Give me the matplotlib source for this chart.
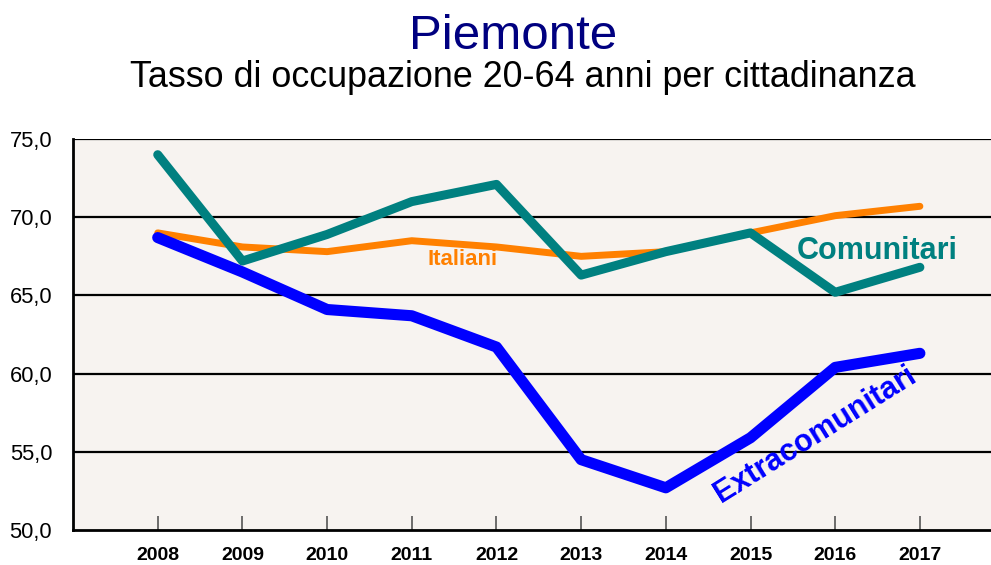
import matplotlib
matplotlib.use("Agg")
import matplotlib.pyplot as plt

plt.rcParams['font.family'] = ['Liberation Sans', 'DejaVu Sans']

years = [2008, 2009, 2010, 2011, 2012, 2013, 2014, 2015, 2016, 2017]
italiani = [69.0, 68.1, 67.8, 68.5, 68.1, 67.5, 67.8, 69.0, 70.1, 70.7]
comunitari = [74.0, 67.2, 68.9, 71.0, 72.1, 66.3, 67.8, 69.0, 65.2, 66.8]
extracomunitari = [68.7, 66.5, 64.1, 63.7, 61.7, 54.5, 52.7, 55.9, 60.4, 61.3]
yticks = [50, 55, 60, 65, 70, 75]
ytick_labels = ["50,0", "55,0", "60,0", "65,0", "70,0", "75,0"]

fig = plt.figure(figsize=(9.91, 5.65), dpi=100)
ax = fig.add_axes([0.0737, 0.0619, 0.94, 0.692])
ax.set_facecolor('#F7F3F0')

ax.set_xlim(2007.0, 2018.0)
ax.set_ylim(50, 75)

for y in yticks[1:]:
    ax.axhline(y, color='black', lw=1.6, zorder=1)

ax.plot(years, italiani, color='#FF8000', lw=5.0, solid_capstyle='round', solid_joinstyle='round', zorder=3)
ax.plot(years, comunitari, color='#008080', lw=6.5, solid_capstyle='round', solid_joinstyle='round', zorder=4)
ax.plot(years, extracomunitari, color='#0000FF', lw=8.0, solid_capstyle='round', solid_joinstyle='round', zorder=5)

ax.set_yticks(yticks)
ax.set_yticklabels(ytick_labels, fontsize=15.75)
ax.set_xticks(years)
ax.set_xticklabels([str(y) for y in years], fontsize=14, fontweight='bold')
ax.tick_params(axis='y', length=0, pad=15)
ax.tick_params(axis='x', direction='in', length=10, width=1.2, color='#555555', pad=12)

for s in ['top', 'right']:
    ax.spines[s].set_visible(False)
ax.spines['left'].set_linewidth(2)
ax.spines['bottom'].set_linewidth(2)

ax.text(2011.6, 67.3, "Italiani", color='#FF8000', fontsize=16, fontweight='bold', ha='center', va='center', zorder=6)
ax.text(2016.5, 67.85, "Comunitari", color='#008080', fontsize=22, fontweight='bold', ha='center', va='center', zorder=6)
ax.text(2015.77, 56.1, "Extracomunitari", color='#0000FF', fontsize=22, fontweight='bold', ha='center', va='center', rotation=32, zorder=6)

fig.text(0.518, 0.935, "Piemonte", color='#000080', fontsize=35.5, ha='center', va='center')
fig.text(0.528, 0.862, "Tasso di occupazione 20-64 anni per cittadinanza", color='black', fontsize=25.8, ha='center', va='center')

fig.savefig("out.png", dpi=100)
